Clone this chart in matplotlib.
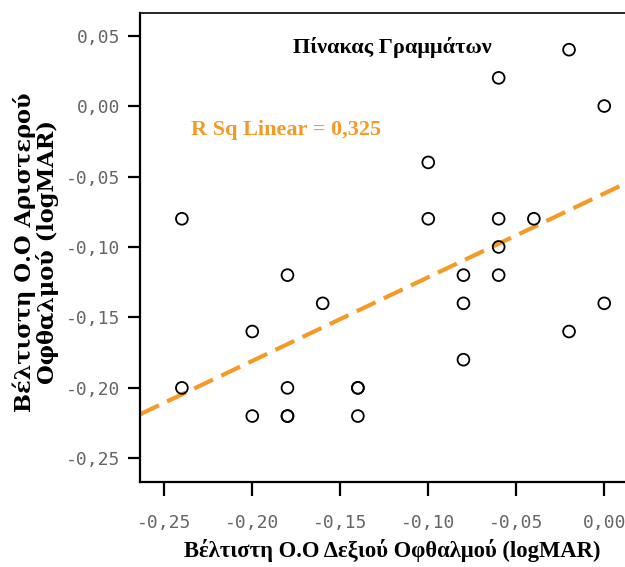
import numpy as np
import matplotlib
matplotlib.use("Agg")
import matplotlib.pyplot as plt

# Best corrected visual acuity (logMAR), right eye vs left eye
right_eye = [-0.02, -0.06, 0.00, -0.10, -0.24, -0.10, -0.06, -0.04, -0.06,
             -0.18, -0.08, -0.06, -0.16, -0.08, 0.00, -0.20, -0.02, -0.08,
             -0.24, -0.18, -0.14, -0.14, -0.20, -0.18, -0.18, -0.14]
left_eye = [0.04, 0.02, 0.00, -0.04, -0.08, -0.08, -0.08, -0.08, -0.10,
            -0.12, -0.12, -0.12, -0.14, -0.14, -0.14, -0.16, -0.16, -0.18,
            -0.20, -0.20, -0.20, -0.20, -0.22, -0.22, -0.22, -0.22]

x_ticks = [-0.25, -0.20, -0.15, -0.10, -0.05, 0.00]
y_ticks = [0.05, 0.00, -0.05, -0.10, -0.15, -0.20, -0.25]

title_text = "Πίνακας Γραμμάτων"
r2_text = "R Sq Linear = 0,325"
x_label = "Βέλτιστη Ο.Ο Δεξιού Οφθαλμού (logMAR)"
y_label = "Βέλτιστη Ο.Ο Αριστερού\nΟφθαλμού (logMAR)"

ORANGE = "#F59A26"
serif = ["Liberation Serif", "DejaVu Serif"]
wide_serif = ["DejaVu Serif"]
mono = ["DejaVu Sans Mono"]

W, H = 625, 567
fig = plt.figure(figsize=(W / 100, H / 100), dpi=100)
ax = fig.add_axes([0.224, 0.1504, 0.7856, 0.8266])


def px(xp, yp):
    """Figure fraction from pixel position measured from the top-left."""
    return xp / W, 1 - yp / H


xlim = (-0.2638, 0.0152)
ylim = (-0.2666, 0.066)
ax.set_xlim(*xlim)
ax.set_ylim(*ylim)

x = np.array(right_eye)
y = np.array(left_eye)

# least-squares fit line across the full x range
slope, intercept = np.polyfit(x, y, 1)
xx = np.array(xlim)
ax.plot(xx, slope * xx + intercept, color=ORANGE, lw=3.0,
        dashes=(5.0, 2.2), solid_capstyle="butt", zorder=2)

ax.scatter(x, y, s=72, facecolors="none", edgecolors="black",
           linewidths=1.3, zorder=3)

ax.set_xticks(x_ticks)
ax.set_xticklabels([f"{v:.2f}".replace(".", ",") for v in x_ticks])
ax.set_yticks(y_ticks)
ax.set_yticklabels([f"{v:.2f}".replace(".", ",") for v in y_ticks])

for lab in ax.get_xticklabels() + ax.get_yticklabels():
    lab.set_family(mono)
    lab.set_fontsize(13)
    lab.set_color("#666666")

ax.tick_params(axis="x", direction="out", length=10, width=1.6, pad=13,
               color="black")
ax.tick_params(axis="y", direction="out", length=9, width=1.6, pad=5,
               color="black")

ax.spines["right"].set_visible(False)
for side in ("left", "bottom"):
    ax.spines[side].set_linewidth(1.6)
ax.spines["top"].set_linewidth(1.2)

fig.text(*px(392, 48), title_text, fontsize=16, family=serif,
         fontweight="bold", ha="center", va="center")

fig.text(*px(286, 130), r2_text, fontsize=16, family=serif,
         fontweight="bold", color=ORANGE, ha="center", va="center")

fig.text(*px(392, 550), x_label, fontsize=16.3, family=serif,
         fontweight="bold", ha="center", va="center")
fig.text(*px(36, 252), y_label, fontsize=16.2, family=wide_serif,
         fontweight="bold", ha="center", va="center", rotation=90,
         multialignment="center", linespacing=0.98)

fig.savefig("out.png", dpi=100)
